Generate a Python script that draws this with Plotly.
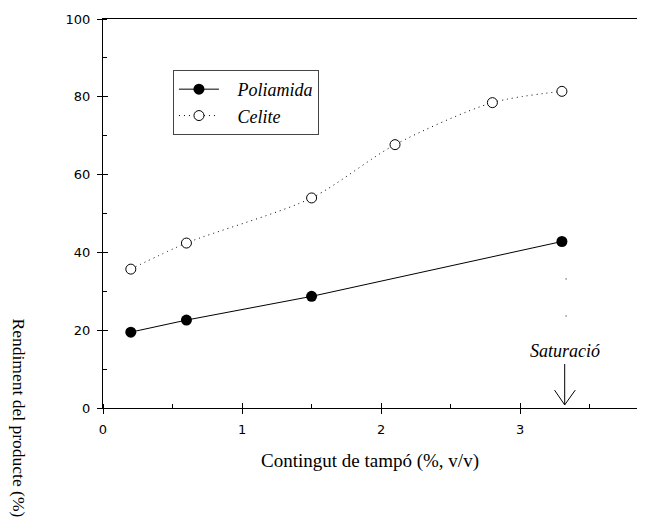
import plotly.graph_objects as go

# Buffer content (% v/v) and product yield (%) for each support
buffer_poliamida = [0.2, 0.6, 1.5, 3.3]
yield_poliamida = [19.5, 22.6, 28.7, 42.8]

buffer_celite = [0.2, 0.6, 1.5, 2.1, 2.8, 3.3]
yield_celite = [35.7, 42.4, 54.0, 67.7, 78.5, 81.4]

saturation_x = 3.32

x_ticks = [0, 1, 2, 3]
y_ticks = [0, 20, 40, 60, 80, 100]

serif = "Liberation Serif, Times New Roman, serif"
sans = "DejaVu Sans, Verdana, sans-serif"
gap = "&nbsp;&nbsp;&nbsp;"

fig = go.Figure()

fig.add_trace(go.Scatter(
    x=buffer_poliamida, y=yield_poliamida, name=gap + "<i>Poliamida</i>",
    mode="lines+markers",
    line=dict(color="black", width=1),
    marker=dict(symbol="circle", size=11, color="black"),
))
fig.add_trace(go.Scatter(
    x=buffer_celite, y=yield_celite, name=gap + "<i>Celite</i>",
    mode="lines+markers",
    line=dict(color="black", width=1, dash="1px,4px", shape="spline", smoothing=0.8),
    marker=dict(symbol="circle", size=10, color="white",
                line=dict(width=1, color="black")),
))

# overlay axes used only to make the major ticks cross the axis lines
fig.add_trace(go.Scatter(x=[None], y=[None], xaxis="x2", yaxis="y2",
                         showlegend=False, hoverinfo="skip"))

axis_common = dict(showgrid=False, zeroline=False, linecolor="black",
                   linewidth=1, tickcolor="black", tickwidth=1)

fig.update_layout(
    width=656, height=525,
    margin=dict(l=103, r=19, t=19, b=117),
    paper_bgcolor="white", plot_bgcolor="white",
    font=dict(family=sans, size=13, color="black"),
    xaxis=dict(range=[0, 3.84], tickvals=x_ticks, ticks="outside", ticklen=5,
               showline=True, mirror=True, ticklabelstandoff=4,
               minor=dict(ticks="inside", ticklen=4, dtick=0.5, tickcolor="black"),
               tickfont=dict(family=sans, size=13),
               title=dict(text="Contingut de tampó (%, v/v)",
                          font=dict(family=serif, size=19), standoff=18),
               **axis_common),
    yaxis=dict(range=[0, 100], tickvals=y_ticks, ticks="outside", ticklen=5,
               showline=True, ticklabelstandoff=4,
               minor=dict(ticks="inside", ticklen=4, dtick=10, tickcolor="black"),
               tickfont=dict(family=sans, size=13),
               **axis_common),
    xaxis2=dict(overlaying="x", matches="x", range=[0, 3.84], tickvals=x_ticks,
                ticks="inside", ticklen=5, showticklabels=False, showgrid=False,
                zeroline=False, showline=False, tickcolor="black", side="bottom"),
    yaxis2=dict(overlaying="y", matches="y", range=[0, 100], tickvals=y_ticks,
                ticks="inside", ticklen=5, showticklabels=False, showgrid=False,
                zeroline=False, showline=False, tickcolor="black", side="left"),
    legend=dict(x=0.131, y=0.869, xanchor="left", yanchor="top",
                bordercolor="#444", borderwidth=1, bgcolor="white",
                font=dict(family=serif, size=18), itemwidth=40,
                tracegroupgap=0),
    showlegend=True,
)

# y-axis title reading top to bottom
fig.add_annotation(text="Rendiment del producte (%)", xref="paper", yref="paper",
                   x=-0.157, y=-0.025, xanchor="center", yanchor="middle",
                   textangle=90, showarrow=False,
                   font=dict(family=serif, size=17.5))

# saturation marker
fig.add_annotation(text="<i>Saturació</i>", x=saturation_x, y=14.6, xref="x", yref="y",
                   showarrow=False, font=dict(family=serif, size=18))
fig.add_shape(type="line", x0=saturation_x, x1=saturation_x, y0=11.3, y1=0.8,
              xref="x", yref="y", line=dict(color="black", width=1))
fig.add_shape(type="path",
              path=f"M {saturation_x - 0.073},4.6 L {saturation_x},0.8 L {saturation_x + 0.076},4.6",
              xref="x", yref="y", line=dict(color="black", width=1))
fig.add_shape(type="line", x0=saturation_x + 0.01, x1=saturation_x + 0.01, y0=33.3, y1=23.5,
              xref="x", yref="y", line=dict(color="black", width=1, dash="1px,36px"))

fig.write_html("out.html")
